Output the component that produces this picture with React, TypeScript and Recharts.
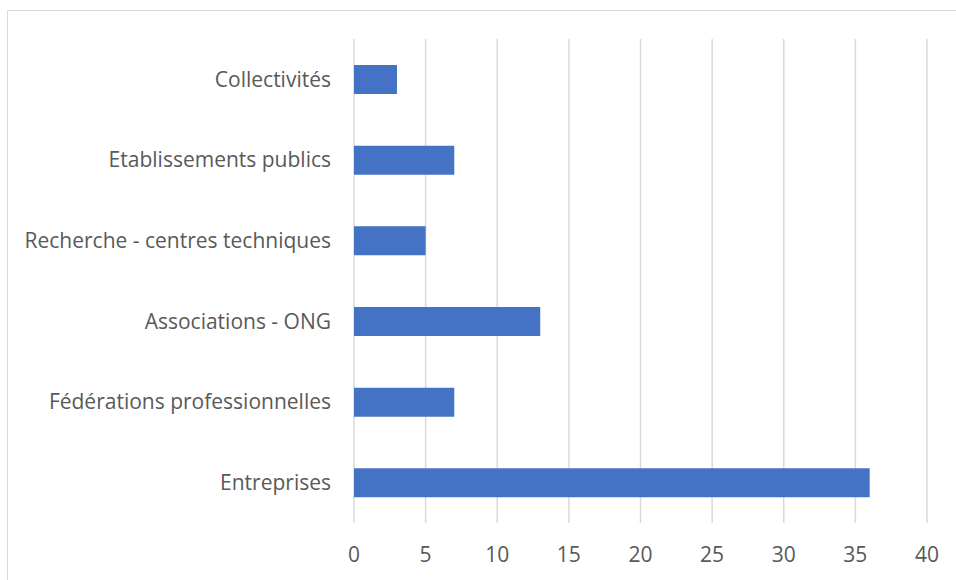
import { BarChart, Bar, XAxis, YAxis, CartesianGrid } from 'recharts';

const categories = [
  'Collectivités',
  'Etablissements publics',
  'Recherche - centres techniques',
  'Associations - ONG',
  'Fédérations professionnelles',
  'Entreprises',
];
const counts = [3, 7, 5, 13, 7, 36];
const xTicks = [0, 5, 10, 15, 20, 25, 30, 35, 40];

const data = categories.map((name, i) => ({ name, value: counts[i] }));

const font = "'Open Sans', sans-serif";
const textStyle = { fontFamily: font, fontSize: 21, fill: '#595959' };

export default function App() {
  return (
    <div
      style={{
        position: 'fixed',
        left: 0,
        top: 0,
        width: 956,
        height: 580,
        overflow: 'hidden',
        background: '#fff',
      }}
    >
      {/* chart frame: only left and top edges fall inside the picture */}
      <div
        style={{
          position: 'absolute',
          left: 7,
          top: 10,
          width: 980,
          height: 600,
          border: '1px solid #d9d9d9',
        }}
      />
      <div style={{ position: 'absolute', left: 0, top: 0 }}>
        <BarChart
          width={956}
          height={580}
          data={data}
          layout="vertical"
          margin={{ top: 39, right: 29, left: 0, bottom: 0 }}
        >
          <CartesianGrid horizontal={false} stroke="#d9d9d9" strokeWidth={1.5} />
          <XAxis
            type="number"
            domain={[0, 40]}
            ticks={xTicks}
            interval={0}
            axisLine={false}
            tickLine={false}
            tickSize={0}
            tickMargin={24}
            height={57}
            tick={textStyle}
          />
          <YAxis
            type="category"
            dataKey="name"
            width={354}
            axisLine={false}
            tickLine={false}
            tickSize={0}
            tickMargin={23}
            interval={0}
            tick={textStyle}
          />
          <Bar dataKey="value" fill="#4472C4" barSize={29} isAnimationActive={false} />
        </BarChart>
      </div>
    </div>
  );
}
